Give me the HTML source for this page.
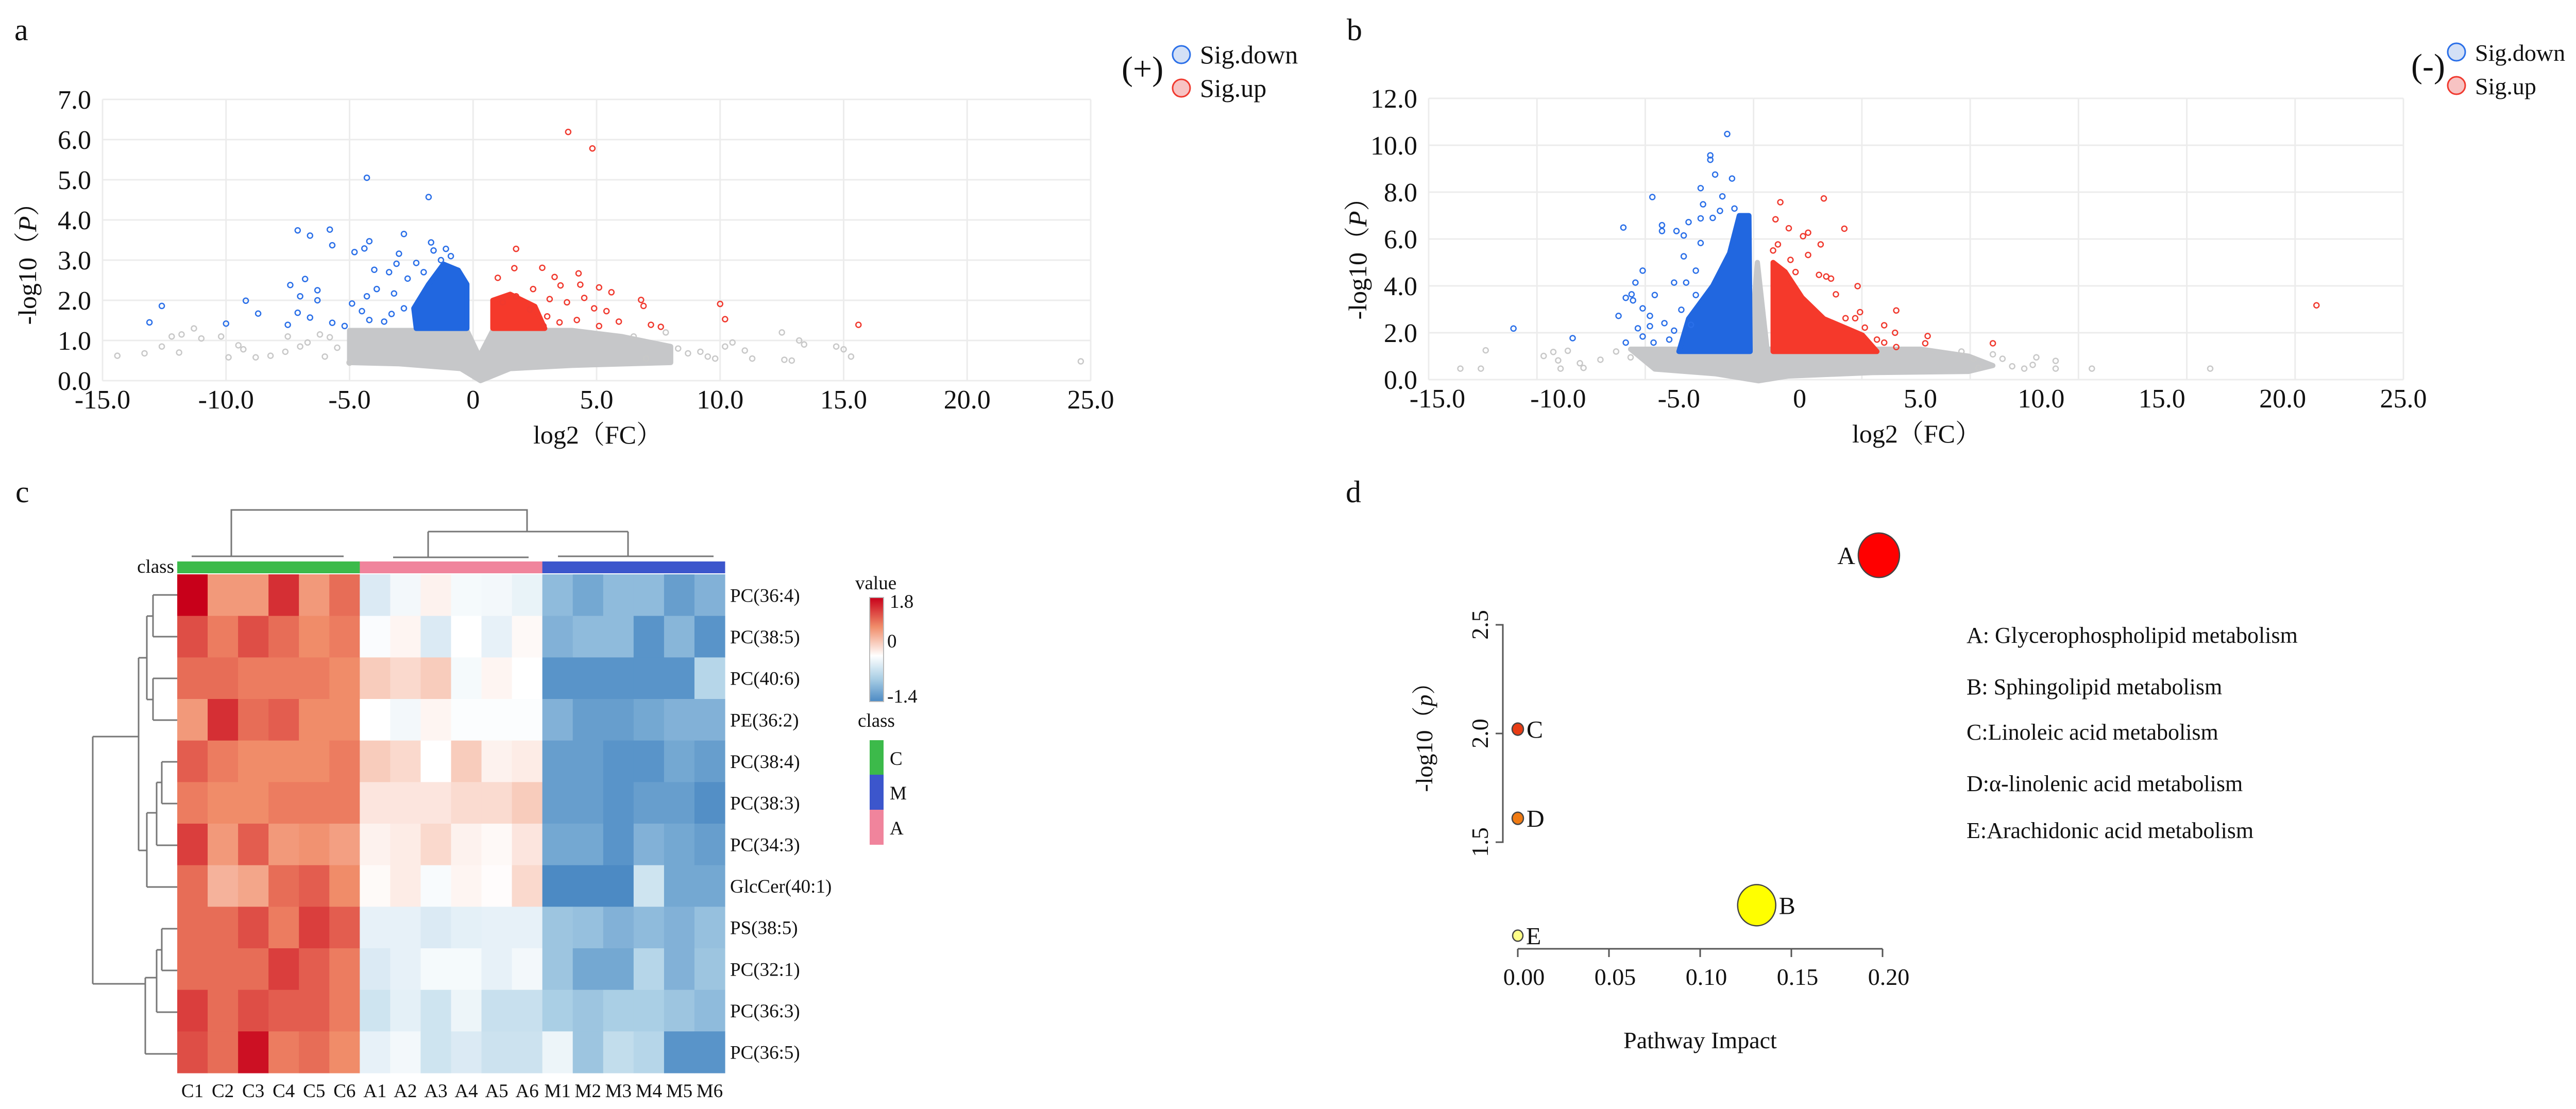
<!DOCTYPE html>
<html><head><meta charset="utf-8"><title>Lipidomics figure</title>
<style>
html,body{margin:0;padding:0;background:#fff}
svg{display:block}
text{font-family:"Liberation Serif","Noto Serif CJK SC",serif;fill:#111}
</style></head>
<body>
<svg id="fig" xmlns="http://www.w3.org/2000/svg" width="5048" height="2153" viewBox="0 0 5048 2153">
<rect width="5048" height="2153" fill="#fff"/>
<text x="28" y="78" font-size="60">a</text>
<text x="2614" y="78" font-size="60">b</text>
<text x="30" y="975" font-size="60">c</text>
<text x="2612" y="975" font-size="60">d</text>
<g id="pa"></g>
<g id="pb"></g>
<g id="pc"></g>
<g id="pd"></g>
</svg>
<script>
// ---------- Panel a data (log2FC, -log10 P) ----------
const aXTicks=[-15,-10,-5,0,5,10,15,20,25];
const aXTickLabels=["-15.0","-10.0","-5.0","0","5.0","10.0","15.0","20.0","25.0"];
const aYTicks=[0,1,2,3,4,5,6,7];
const aYTickLabels=["0.0","1.0","2.0","3.0","4.0","5.0","6.0","7.0"];
const aDown=[[-4.3,5.05],[-1.8,4.57],[-7.1,3.74],[-6.6,3.61],[-5.8,3.76],[-5.7,3.37],[-4.2,3.47],[-4.4,3.29],[-4.8,3.2],[-2.8,3.65],[-1.7,3.44],[-3.0,3.16],[-4.0,2.76],[-3.4,2.7],[-6.8,2.53],[-7.4,2.38],[-6.3,2.25],[-7.0,2.1],[-6.3,2.0],[-9.2,1.99],[-12.6,1.86],[-13.1,1.45],[-10.0,1.42],[-8.7,1.67],[-7.1,1.69],[-6.6,1.57],[-7.5,1.39],[-5.7,1.44],[-5.2,1.36],[-4.9,1.92],[-4.3,2.1],[-3.9,2.28],[-4.2,1.51],[-3.6,1.47],[-3.2,2.17],[-3.1,2.91],[-2.3,2.93],[-2.65,2.54],[-1.6,3.24],[-1.1,3.28],[-4.5,1.73],[-2.8,1.8],[-3.3,1.66],[-1.3,3.0],[-0.9,3.1],[-2.0,2.7]];
const aUp=[[3.85,6.19],[4.83,5.78],[1.74,3.28],[1.67,2.8],[2.8,2.81],[4.27,2.67],[3.3,2.58],[1.0,2.56],[3.54,2.37],[4.34,2.39],[2.43,2.28],[5.1,2.32],[5.6,2.2],[3.1,2.03],[4.5,2.06],[3.8,1.95],[6.8,2.01],[6.9,1.86],[10.0,1.91],[10.2,1.53],[15.6,1.39],[7.2,1.39],[7.6,1.34],[5.9,1.47],[5.4,1.73],[4.9,1.8],[4.2,1.51],[5.1,1.36],[2.85,1.36],[2.3,1.77],[1.74,2.1],[1.2,1.95],[3.0,1.6],[3.5,1.45]];
const aNs=[[-14.4,0.62],[-13.3,0.68],[-12.6,0.85],[-12.2,1.1],[-11.9,0.7],[-11.8,1.15],[-11.3,1.3],[-11.0,1.05],[-10.2,1.1],[-9.9,0.58],[-9.5,0.88],[-9.3,0.78],[-8.8,0.58],[-8.2,0.62],[-7.6,0.72],[-7.5,1.1],[-7.0,0.85],[-6.7,0.95],[-6.2,1.15],[-5.8,1.08],[-5.5,0.82],[9.8,0.55],[10.2,0.85],[10.5,0.95],[11.0,0.75],[12.5,1.2],[12.6,0.52],[12.9,0.5],[13.2,1.0],[13.4,0.9],[14.7,0.85],[15.0,0.78],[15.3,0.6],[24.6,0.48],[9.2,0.72],[8.7,0.68],[8.3,0.8],[7.8,1.2],[9.5,0.6],[11.3,0.55],[-6.0,0.6],[-5.0,0.45],[7.0,0.55],[6.5,1.1]];
const aNsDense=[[-5,1.25],[-0.25,1.25],[0.25,0.6],[0.8,1.25],[4,1.25],[6,1.1],[8,0.85],[8,0.45],[4,0.38],[1.5,0.3],[0.3,0.0],[-0.5,0.3],[-3,0.42],[-5,0.45]];
const aDownDense=[[-2.3,1.3],[-2.4,1.8],[-1.8,2.4],[-1.2,2.9],[-0.6,2.75],[-0.25,2.4],[-0.25,1.3]];
const aUpDense=[[0.8,1.3],[0.8,2.0],[1.5,2.15],[2.5,1.85],[2.9,1.3]];

// ---------- Panel b data ----------
const bXTicks=[-15,-10,-5,0,5,10,15,20,25];
const bXTickLabels=["-15.0","-10.0","-5.0","0","5.0","10.0","15.0","20.0","25.0"];
const bYTicks=[0,2,4,6,8,10,12];
const bYTickLabels=["0.0","2.0","4.0","6.0","8.0","10.0","12.0"];
const bDown=[[-3.0,10.48],[-3.7,9.57],[-3.7,9.38],[-3.5,8.75],[-2.8,8.58],[-4.1,8.17],[-6.1,7.79],[-3.2,7.82],[-4.0,7.48],[-4.6,6.72],[-4.1,6.88],[-7.3,6.49],[-5.7,6.59],[-5.7,6.34],[-5.1,6.34],[-4.8,6.15],[-4.1,5.83],[-4.8,5.26],[-6.5,4.65],[-4.3,4.65],[-6.8,4.14],[-5.2,4.14],[-4.7,4.14],[-6.0,3.61],[-7.2,3.49],[-6.96,3.64],[-6.9,3.38],[-6.5,3.04],[-7.5,2.72],[-6.2,2.72],[-6.7,2.19],[-6.2,2.28],[-11.85,2.18],[-9.4,1.77],[-7.2,1.58],[-6.5,1.84],[-6.05,1.58],[-5.4,1.71],[-5.6,2.41],[-5.2,2.09],[-4.9,2.98],[-4.3,3.61],[-4.5,2.34],[-3.3,7.2],[-2.7,7.3],[-3.6,6.9]];
const bUp=[[1.0,7.73],[-0.8,7.57],[-1.0,6.84],[-0.45,6.46],[1.85,6.44],[0.35,6.27],[0.14,6.12],[0.87,5.77],[-1.1,5.51],[-0.9,5.77],[0.35,5.32],[-0.38,5.11],[-0.17,4.59],[0.8,4.47],[1.3,4.31],[1.1,4.4],[2.4,3.99],[1.5,3.64],[4.0,2.95],[2.5,2.88],[1.9,2.62],[2.3,2.62],[3.5,2.32],[2.7,2.22],[3.95,2.0],[5.3,1.86],[5.2,1.55],[8.0,1.55],[4.0,1.39],[21.4,3.17],[3.2,1.71],[3.5,1.58]];
const bNs=[[-14.05,0.47],[-13.2,0.47],[-13.0,1.25],[-10.6,1.01],[-10.2,1.18],[-9.6,1.23],[-10.0,0.82],[-9.9,0.47],[-9.1,0.7],[-8.95,0.5],[-8.25,0.85],[-7.6,1.2],[-7.0,0.95],[8.0,1.08],[8.4,0.89],[8.8,0.57],[9.3,0.47],[9.8,0.95],[10.6,0.8],[10.6,0.47],[12.1,0.47],[17.0,0.47],[9.65,0.63],[7.4,0.5],[6.7,1.2],[7.2,0.89]];
const bNsDense=[[-7,1.3],[-2.05,1.3],[-1.75,5.0],[-1.35,1.3],[5,1.3],[7,1.0],[8,0.6],[7,0.35],[3,0.3],[-0.5,0.15],[-1.7,-0.05],[-3.5,0.25],[-6,0.45]];
const bDownDense=[[-5.0,1.2],[-4.6,2.6],[-3.6,4.0],[-2.9,5.4],[-2.5,7.0],[-2.1,7.0],[-2.05,1.2]];
const bUpDense=[[-1.1,1.2],[-1.1,5.0],[-0.6,4.6],[0.1,3.5],[1.0,2.6],[2.6,1.9],[3.2,1.2]];

// ---------- Panel c data ----------
const hmRows=["PC(36:4)","PC(38:5)","PC(40:6)","PE(36:2)","PC(38:4)","PC(38:3)","PC(34:3)","GlcCer(40:1)","PS(38:5)","PC(32:1)","PC(36:3)","PC(36:5)"];
const hmCols=["C1","C2","C3","C4","C5","C6","A1","A2","A3","A4","A5","A6","M1","M2","M3","M4","M5","M6"];
const hmClass=["C","C","C","C","C","C","A","A","A","A","A","A","M","M","M","M","M","M"];
const hmValues=[
[1.8,0.8,0.8,1.5,0.8,1.1,-0.3,-0.1,0.1,-0.08,-0.1,-0.18,-0.9,-1.1,-0.9,-0.9,-1.2,-1.0],
[1.3,1.0,1.3,1.1,0.9,1.0,-0.04,0.08,-0.3,0,-0.2,0.05,-1.0,-0.9,-0.9,-1.3,-0.95,-1.3],
[1.1,1.1,1.0,1.0,1.0,0.9,0.4,0.3,0.4,-0.08,0.08,0,-1.3,-1.3,-1.3,-1.3,-1.3,-0.6],
[0.8,1.5,1.1,1.2,0.9,0.9,0,-0.1,0.08,-0.03,-0.03,-0.03,-1.0,-1.2,-1.2,-1.1,-1.0,-1.0],
[1.2,1.0,0.9,0.9,0.9,1.0,0.4,0.3,0,0.4,0.1,0.15,-1.2,-1.2,-1.3,-1.3,-1.1,-1.2],
[1.0,0.9,0.9,1.0,1.0,1.0,0.2,0.2,0.2,0.28,0.28,0.4,-1.2,-1.2,-1.3,-1.2,-1.2,-1.35],
[1.4,0.8,1.2,0.8,0.85,0.75,0.1,0.15,0.3,0.1,0.05,0.2,-1.1,-1.1,-1.3,-1.0,-1.1,-1.2],
[1.1,0.6,0.7,1.1,1.2,0.9,0.04,0.15,-0.06,0.08,0.02,0.3,-1.4,-1.4,-1.4,-0.4,-1.1,-1.1],
[1.1,1.1,1.3,1.0,1.4,1.2,-0.2,-0.2,-0.3,-0.22,-0.2,-0.2,-0.8,-0.85,-1.0,-0.9,-1.0,-0.85],
[1.1,1.1,1.1,1.4,1.2,1.0,-0.3,-0.2,-0.08,-0.08,-0.2,-0.1,-0.8,-1.1,-1.1,-0.6,-1.0,-0.8],
[1.4,1.1,1.3,1.2,1.2,1.0,-0.4,-0.22,-0.4,-0.15,-0.45,-0.45,-0.7,-0.8,-0.7,-0.7,-0.8,-0.9],
[1.3,1.1,1.7,1.0,1.1,0.9,-0.2,-0.1,-0.4,-0.3,-0.42,-0.42,-0.15,-0.8,-0.5,-0.6,-1.3,-1.3]];

// ---------- Panel d data ----------
const pwNames=["A","B","C","D","E"];
const pwImpact=[0.198,0.131,0.0,0.0,0.0];
const pwLogP=[2.82,1.21,2.02,1.61,1.07];
const pwRadius=[40,37,11,11,10];
const pwColors=["#ff0000","#ffff00","#e83c14","#f07a12","#ffff88"];
const pwLegend=["A: Glycerophospholipid metabolism","B: Sphingolipid metabolism","C:Linoleic acid metabolism","D:α-linolenic acid metabolism","E:Arachidonic acid metabolism"];
const pwXTicks=[0,0.05,0.1,0.15,0.2];
const pwXTickLabels=["0.00","0.05","0.10","0.15","0.20"];
const pwYTicks=[1.5,2.0,2.5];
const pwYTickLabels=["1.5","2.0","2.5"];

const NS="http://www.w3.org/2000/svg";
function mk(parent,tag,attrs,txt){const e=document.createElementNS(NS,tag);for(const k in attrs)e.setAttribute(k,attrs[k]);if(txt!==undefined)e.textContent=txt;parent.appendChild(e);return e;}

function volcano(g,cfg){
  const sx=v=>cfg.x0+(v-cfg.xmin)*(cfg.x1-cfg.x0)/(cfg.xmax-cfg.xmin);
  const sy=v=>cfg.y0-(v-cfg.ymin)*(cfg.y0-cfg.y1)/(cfg.ymax-cfg.ymin);
  cfg.vgrid.forEach((gx,i)=>{
    const l=mk(g,'line',{x1:gx,x2:gx,y1:cfg.y1,y2:cfg.y0,stroke:'#ececec','stroke-width':3});
    
    
  });
  cfg.yTicks.forEach((t,i)=>{
    const l=mk(g,'line',{x1:cfg.gx0,x2:cfg.gx1,y1:sy(t),y2:sy(t),stroke:'#ececec','stroke-width':3});
    
    
    const tx=mk(g,'text',{x:cfg.gx0-22,y:sy(t)+18,'font-size':52,'text-anchor':'end'},cfg.yTickLabels[i]);
    
    
  });
  cfg.xTicks.forEach((t,i)=>{
    const tx=mk(g,'text',{x:sx(t),y:cfg.y0+54,'font-size':52,'text-anchor':'middle'},cfg.xTickLabels[i]);
    
    
  });
  function poly(pts,fill,name){
    const p=mk(g,'polygon',{points:pts.map(q=>sx(q[0])+','+sy(q[1])).join(' '),fill:fill,stroke:fill,'stroke-width':10,'stroke-linejoin':'round'});
    
    
  }
  poly(cfg.nsDense,'#c6c7c9','nonsig-dense-cluster');
  poly(cfg.downDense,'#2167e0','sig-down-dense-cluster');
  poly(cfg.upDense,'#f5392b','sig-up-dense-cluster');
  function pts(arr,col,name){
    arr.forEach(q=>{
      const c=mk(g,'circle',{cx:sx(q[0]),cy:sy(q[1]),r:5,fill:'none',stroke:col,'stroke-width':2.5});
      
      
    });
  }
  pts(cfg.ns,'#c8c8c8','nonsig-point');
  pts(cfg.down,'#2a6fe8','sig-down-point');
  pts(cfg.up,'#f0392e','sig-up-point');
  const xt=mk(g,'text',{x:cfg.xTitleX,y:cfg.y0+122,'font-size':50,'text-anchor':'middle'},'log2（FC）');
  
  
  const yt=mk(g,'text',{x:0,y:0,'font-size':50,'text-anchor':'middle',transform:`translate(${cfg.yTitleX},${cfg.yTitleY}) rotate(-90)`});
  
  
  mk(yt,'tspan',{},'-log10（');
  mk(yt,'tspan',{'font-style':'italic'},'P');
  mk(yt,'tspan',{},'）');
  const lg=mk(g,'g',{});
  
  
  const sign=mk(lg,'text',{x:cfg.legX,y:cfg.legY+22,'font-size':66},cfg.sign);
  
  
  const c1=mk(lg,'circle',{cx:cfg.legCX,cy:cfg.legY-27,r:17,fill:'#d3e0f6',stroke:'#2a6fe8','stroke-width':3});
  
  
  const t1=mk(lg,'text',{x:cfg.legCX+36,y:cfg.legY-10,'font-size':cfg.legFont},'Sig.down');
  
  
  const c2=mk(lg,'circle',{cx:cfg.legCX,cy:cfg.legY+38,r:17,fill:'#f7c3c3',stroke:'#f0392e','stroke-width':3});
  
  
  const t2=mk(lg,'text',{x:cfg.legCX+36,y:cfg.legY+55,'font-size':cfg.legFont},'Sig.up');
  
  
}

const aGrid=[];for(let i=0;i<=8;i++)aGrid.push(199+i*(2117-199)/8);
volcano(document.getElementById('pa'),{xmin:-15,xmax:25,x0:199,x1:2117,ymin:0,ymax:7,y0:739,y1:193,gx0:199,gx1:2117,vgrid:aGrid,
 xTicks:aXTicks,xTickLabels:aXTickLabels,yTicks:aYTicks,yTickLabels:aYTickLabels,down:aDown,up:aUp,ns:aNs,nsDense:aNsDense,downDense:aDownDense,upDense:aUpDense,
 xTitleX:1160,yTitleX:70,yTitleY:500,sign:'(+)',legX:2177,legY:133,legCX:2293,legFont:50});
const bGrid=[];for(let i=0;i<=9;i++)bGrid.push(2773+i*(4665-2773)/9);
volcano(document.getElementById('pb'),{xmin:-15,xmax:25,x0:2790,x1:4665,ymin:0,ymax:12,y0:737,y1:191,gx0:2773,gx1:4665,vgrid:bGrid,
 xTicks:bXTicks,xTickLabels:bXTickLabels,yTicks:bYTicks,yTickLabels:bYTickLabels,down:bDown,up:bUp,ns:bNs,nsDense:bNsDense,downDense:bDownDense,upDense:bUpDense,
 xTitleX:3720,yTitleX:2652,yTitleY:490,sign:'(-)',legX:4680,legY:128,legCX:4768,legFont:46});

// ---------- heatmap ----------
(function(){
  const g=document.getElementById('pc');
  const L=344,R=1407,T=1115,B=2083;
  const cw=(R-L)/hmCols.length, rh=(B-T)/hmRows.length;
  const cx=i=>L+i*cw, ry=j=>T+j*rh;
  const classCol={C:'#3cba4a',A:'#f0849c',M:'#3c56cc'};
  function lerp(a,b,t){return a.map((v,i)=>Math.round(v+(b[i]-v)*t));}
  function color(v){
    let c;
    if(v>=0){const t=Math.min(v/1.8,1);c=t<0.5?lerp([255,255,255],[240,140,105],t/0.5):lerp([240,140,105],[200,0,26],(t-0.5)/0.5);}
    else{const t=Math.min(-v/1.4,1);c=t<0.5?lerp([255,255,255],[170,207,229],t/0.5):lerp([170,207,229],[76,138,196],(t-0.5)/0.5);}
    return `rgb(${c[0]},${c[1]},${c[2]})`;
  }
  hmClass.forEach((k,i)=>{
    const r=mk(g,'rect',{x:cx(i),y:1090,width:cw+0.5,height:23,fill:classCol[k]});
    
    
  });
  hmValues.forEach((row,j)=>row.forEach((v,i)=>{
    const r=mk(g,'rect',{x:cx(i),y:ry(j),width:cw+0.6,height:rh+0.6,fill:color(v)});
    
    
  }));
  hmRows.forEach((n,j)=>{
    const t=mk(g,'text',{x:1417,y:ry(j)+rh/2+13,'font-size':37},n);
    
    
  });
  hmCols.forEach((n,i)=>{
    const t=mk(g,'text',{x:cx(i)+cw/2,y:2130,'font-size':37,'text-anchor':'middle'},n);
    
    
  });
  const cl=mk(g,'text',{x:338,y:1112,'font-size':37,'text-anchor':'end'},'class');
  
  
  const dpaths=[
   "M449,1080 V990 H1023 V1032","M831,1032 H1219","M831,1032 V1081","M1219,1032 V1080",
   "M372,1080 H667","M763,1082 H1026","M1083,1080 H1385",
   "M180,1430 V1910","M180,1430 H237","M180,1910 H237",
   "M269,1277 V1651","M237,1430 H269","M269,1277 H285","M269,1651 H285",
   "M285,1196 V1358","M285,1196 H297","M285,1358 H297",
   "M297,1155 V1236","M297,1155 H344","M297,1236 H344","M297,1317 V1398","M297,1317 H344","M297,1398 H344",
   "M285,1578 V1722","M285,1578 H304","M285,1722 H344",
   "M304,1519 V1641","M304,1519 H314","M304,1641 H344","M314,1479 V1560","M314,1479 H344","M314,1560 H344",
   "M282,1898 V2046","M237,1910 H282","M282,1898 H304","M282,2046 H344",
   "M304,1844 V1965","M304,1844 H314","M304,1965 H344","M314,1803 V1884","M314,1803 H344","M314,1884 H344"];
  dpaths.forEach(d=>{
    const p=mk(g,'path',{d:d,fill:'none',stroke:'#777','stroke-width':3});
    
    
  });
  const defs=mk(g,'defs',{});
  const lgd=mk(defs,'linearGradient',{id:'cbar',x1:0,y1:0,x2:0,y2:1});
  [[0,color(1.8)],[0.28,color(0.9)],[0.56,'#fff'],[0.78,color(-0.7)],[1,color(-1.4)]].forEach(s=>mk(lgd,'stop',{offset:s[0],'stop-color':s[1]}));
  const cb=mk(g,'rect',{x:1688,y:1160,width:27,height:202,fill:'url(#cbar)',stroke:'#bbb','stroke-width':2});
  
  
  [['value',1660,1144],['1.8',1727,1180],['0',1722,1257],['-1.4',1722,1364],['class',1665,1411]].forEach((a,i)=>{
    const t=mk(g,'text',{x:a[1],y:a[2],'font-size':37},a[0]);
    
    
  });
  [['C',1437,'#3cba4a'],['M',1504,'#3c56cc'],['A',1572,'#f0849c']].forEach(a=>{
    const r=mk(g,'rect',{x:1688,y:a[1],width:27,height:68,fill:a[2]});
    
    
    const t=mk(g,'text',{x:1727,y:a[1]+48,'font-size':37},a[0]);
    
    
  });
})();

// ---------- pathway plot ----------
(function(){
  const g=document.getElementById('pd');
  const sx=v=>2946+v*(3654-2946)/0.2;
  const sy=v=>1424-(v-2.0)*422;
  const ya=mk(g,'path',{d:`M2903,${sy(2.5)} H2917 V${sy(1.5)} H2903`,fill:'none',stroke:'#555','stroke-width':3});
  
  
  pwYTicks.forEach((t,i)=>{
    const tk=mk(g,'line',{x1:2903,x2:2917,y1:sy(t),y2:sy(t),stroke:'#555','stroke-width':3});
    
    
    const tx=mk(g,'text',{x:0,y:0,'font-size':46,'text-anchor':'middle',transform:`translate(2888,${sy(t)}) rotate(-90)`},pwYTickLabels[i]);
    
    
  });
  const xa=mk(g,'line',{x1:sx(0),x2:sx(0.2),y1:1842,y2:1842,stroke:'#555','stroke-width':3});
  
  
  pwXTicks.forEach((t,i)=>{
    const tk=mk(g,'line',{x1:sx(t),x2:sx(t),y1:1842,y2:1858,stroke:'#555','stroke-width':3});
    
    
    const tx=mk(g,'text',{x:sx(t)+12,y:1912,'font-size':46,'text-anchor':'middle'},pwXTickLabels[i]);
    
    
  });
  const xt=mk(g,'text',{x:3300,y:2035,'font-size':46,'text-anchor':'middle'},'Pathway Impact');
  
  
  const yt=mk(g,'text',{x:0,y:0,'font-size':46,'text-anchor':'middle',transform:'translate(2780,1420) rotate(-90)'});
  
  
  mk(yt,'tspan',{},'-log10（');
  mk(yt,'tspan',{'font-style':'italic'},'p');
  mk(yt,'tspan',{},'）');
  pwNames.forEach((n,i)=>{
    const c=mk(g,'ellipse',{cx:sx(pwImpact[i]),cy:sy(pwLogP[i]),rx:pwRadius[i],ry:pwRadius[i]*1.08,fill:pwColors[i],stroke:'#444','stroke-width':2.5});
    
    
    const left=(n==='A');
    const t=mk(g,'text',{x:left?sx(pwImpact[i])-pwRadius[i]-6:sx(pwImpact[i])+pwRadius[i]+6,y:sy(pwLogP[i])+17,'font-size':48,'text-anchor':left?'end':'start'},n);
    
    
  });
  const ly=[1248,1348,1436,1536,1627];
  pwLegend.forEach((s,i)=>{
    const t=mk(g,'text',{x:3817,y:ly[i],'font-size':44},s);
    
    
  });
})();
</script>
</body></html>
